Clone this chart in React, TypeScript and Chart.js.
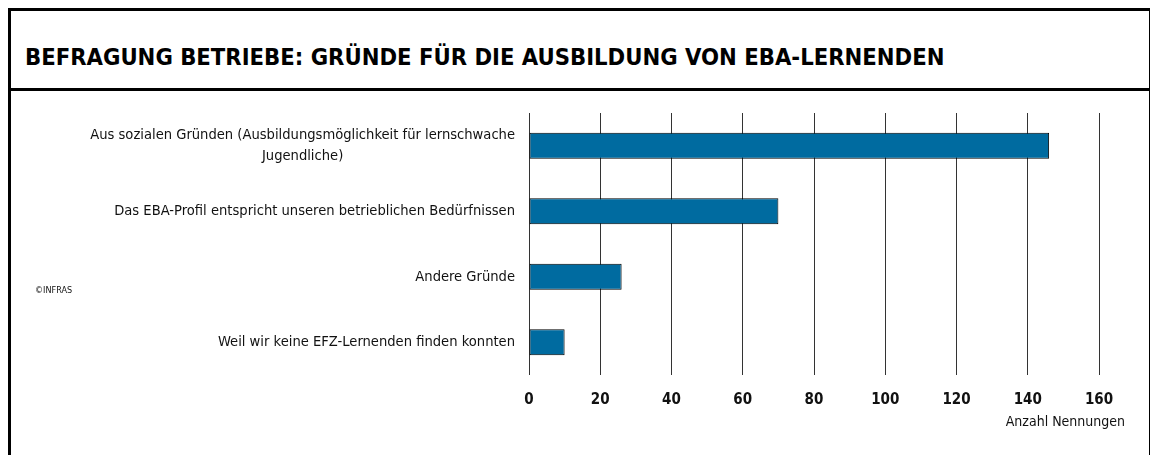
import React, { useEffect, useRef } from 'react';
import { Chart, registerables } from 'chart.js';

Chart.register(...registerables);

const TITLE = 'BEFRAGUNG BETRIEBE: GRÜNDE FÜR DIE AUSBILDUNG VON EBA-LERNENDEN';
const categories: string[][] = [
  ['Aus sozialen Gründen (Ausbildungsmöglichkeit für lernschwache', 'Jugendliche)'],
  ['Das EBA-Profil entspricht unseren betrieblichen Bedürfnissen'],
  ['Andere Gründe'],
  ['Weil wir keine EFZ-Lernenden finden konnten'],
];
const values = [146, 70, 26, 10];
const xMin = 0;
const xMax = 160;
const xStep = 20;
const axisTitle = 'Anzahl Nennungen';
const sourceNote = '©INFRAS';

const FONT = '"DejaVu Sans Condensed", "DejaVu Sans", sans-serif';
const BAR_COLOR = '#006ba0';

const CANVAS_W = 1138;
const CANVAS_H = 364;

export default function App() {
  const ref = useRef<HTMLCanvasElement | null>(null);

  useEffect(() => {
    if (!ref.current) return;
    const labelPlugin = {
      id: 'customLabels',
      afterDraw(chart: any) {
        const ctx = chart.ctx as CanvasRenderingContext2D;
        const yScale = chart.scales.y;
        const area = chart.chartArea;
        ctx.save();
        ctx.font = `14.6px ${FONT}`;
        ctx.fillStyle = '#111';
        ctx.textBaseline = 'middle';
        ctx.textAlign = 'center';
        const lh = 21;
        categories.forEach((lines, i) => {
          const cy = yScale.getPixelForValue(i);
          const maxW = Math.max(...lines.map((l) => ctx.measureText(l).width));
          const cx = area.left - 14 - maxW / 2;
          lines.forEach((l, j) => {
            ctx.fillText(l, cx, cy + (j - (lines.length - 1) / 2) * lh);
          });
        });
        ctx.font = `14px ${FONT}`;
        ctx.textAlign = 'right';
        ctx.fillText(axisTitle, area.right + 26, area.bottom + 47);
        ctx.restore();
      },
    };

    const chart = new Chart(ref.current, {
      type: 'bar',
      data: {
        labels: categories.map((c) => c.join(' ')),
        datasets: [
          {
            data: values,
            backgroundColor: BAR_COLOR,
            borderColor: '#000',
            borderWidth: 1,
            borderSkipped: false,
            categoryPercentage: 1,
            barPercentage: 0.4,
          },
        ],
      },
      options: {
        indexAxis: 'y',
        responsive: false,
        maintainAspectRatio: false,
        animation: false,
        layout: { padding: { left: 0, right: 50, top: 22, bottom: 0 } },
        plugins: { legend: { display: false }, tooltip: { enabled: false }, title: { display: false } },
        scales: {
          y: {
            ticks: { display: false },
            grid: { display: false },
            border: { display: false },
            afterFit: (s: any) => {
              s.width = 518;
            },
          },
          x: {
            position: 'bottom',
            min: xMin,
            max: xMax,
            ticks: {
              stepSize: xStep,
              color: '#111',
              font: { family: FONT, size: 15, weight: 'bold' },
              padding: 16,
            },
            grid: { color: '#333', lineWidth: 1, drawTicks: false },
            border: { display: false },
            afterFit: (s: any) => {
              s.height = 80;
            },
          },
        },
      },
      plugins: [labelPlugin],
    } as any);
    return () => chart.destroy();
  }, []);

  return (
    <div
      style={{
        position: 'relative',
        width: CANVAS_W,
        border: '3px solid #000',
        fontFamily: FONT,
        background: '#fff',
      }}
    >
      <style>{'html,body{overflow:hidden}'}</style>
      <div
        style={{
          height: 77,
          borderBottom: '3px solid #000',
          boxSizing: 'content-box',
          position: 'relative',
        }}
      >
        <div
          style={{
            position: 'absolute',
            left: 14,
            top: 34,
            fontSize: 23.6,
            lineHeight: '24px',
            fontWeight: 'bold',
            color: '#000',
            whiteSpace: 'nowrap',
          }}
        >
          {TITLE}
        </div>
      </div>
      <div style={{ position: 'relative', height: CANVAS_H }}>
        <canvas ref={ref} width={CANVAS_W} height={CANVAS_H} style={{ display: 'block' }} />
        <div
          style={{
            position: 'absolute',
            left: 24,
            top: 193,
            fontSize: 9,
            lineHeight: '12px',
            color: '#111',
          }}
        >
          {sourceNote}
        </div>
      </div>
    </div>
  );
}
